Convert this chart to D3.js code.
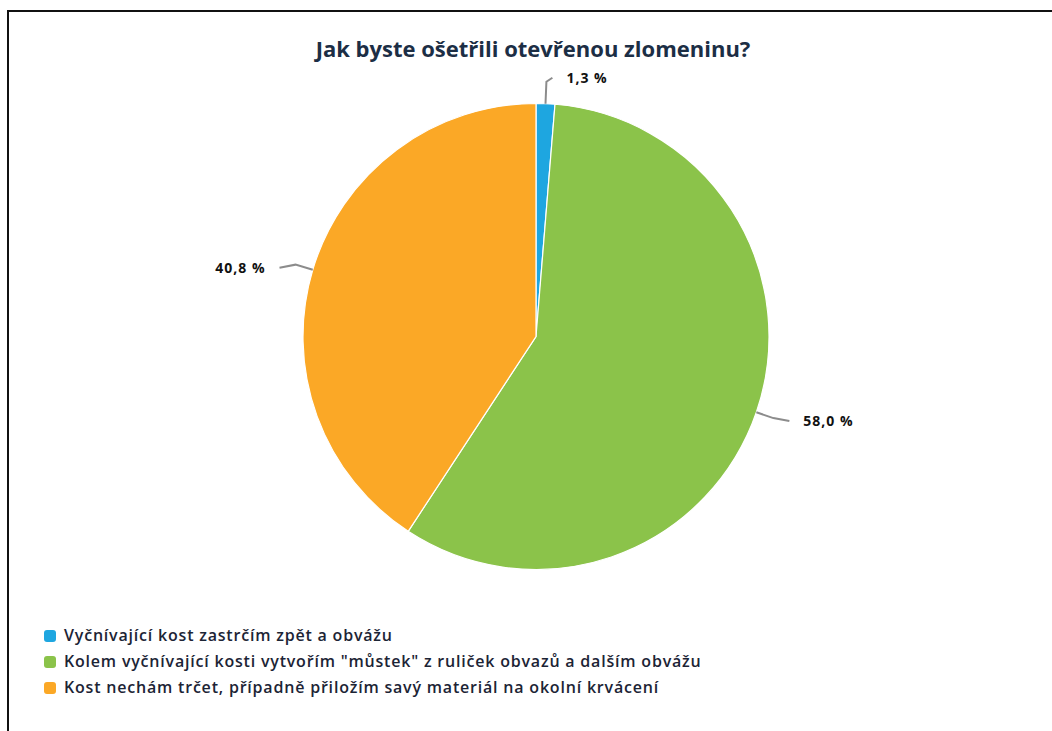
<!DOCTYPE html>
<html>
<head>
<meta charset="utf-8">
<script src="https://cdn.jsdelivr.net/npm/d3@7"></script>
<style>
  html, body { margin: 0; padding: 0; background: #fff; }
  svg { display: block; }
</style>
</head>
<body>
<svg id="chart" width="1052" height="731"></svg>
<script>
// Survey answers and their shares (percent)
const categories = [
  "Vyčnívající kost zastrčím zpět a obvážu",
  "Kolem vyčnívající kosti vytvořím \"můstek\" z ruliček obvazů a dalším obvážu",
  "Kost nechám trčet, případně přiložím savý materiál na okolní krvácení"
];
const values = [1.3, 58.0, 40.8];
const valueLabels = ["1,3 %", "58,0 %", "40,8 %"];
const colors = ["#1ea6e0", "#8bc34a", "#fba826"];
const title = "Jak byste ošetřili otevřenou zlomeninu?";

const svg = d3.select("#chart");
const W = 1052, H = 731;

// outer frame
svg.append("rect")
  .attr("x", 8).attr("y", 11)
  .attr("width", W + 20).attr("height", H + 20)
  .attr("fill", "#fff")
  .attr("stroke", "#111").attr("stroke-width", 2);

svg.append("text")
  .attr("x", 533).attr("y", 57)
  .attr("text-anchor", "middle")
  .attr("font-family", "Open Sans, sans-serif")
  .attr("font-weight", "bold")
  .attr("font-size", 22)
  .attr("fill", "#1c2e45")
  .text(title);

const cx = 536, cy = 336.5, R = 233;
const data = categories.map((c, i) => ({ name: c, value: values[i], label: valueLabels[i], color: colors[i] }));

const pie = d3.pie().sort(null).value(d => d.value);
const arcs = pie(data);
const arc = d3.arc().innerRadius(0).outerRadius(R);

const g = svg.append("g").attr("transform", `translate(${cx},${cy})`);

g.selectAll("path.slice")
  .data(arcs)
  .join("path")
  .attr("class", "slice")
  .attr("d", arc)
  .attr("fill", d => d.data.color)
  .attr("stroke", "#fff")
  .attr("stroke-width", 1.2);

// leader lines and value labels
const pt = (a, r) => [r * Math.sin(a), -r * Math.cos(a)];
arcs.forEach(d => {
  const mid = (d.startAngle + d.endAngle) / 2;
  const nearTop = Math.abs(Math.sin(mid)) < 0.2;
  const p0 = pt(mid, R);
  const p1 = pt(mid, R + (nearTop ? 22 : 18));
  const right = Math.sin(mid) >= 0;
  const p2 = [p1[0] + (right ? 1 : -1) * (nearTop ? 6 : 16), p1[1] + (nearTop ? -4 : 3)];
  g.append("path")
    .attr("d", d3.line()([p0, p1, p2]))
    .attr("fill", "none")
    .attr("stroke", "#8c8c8c")
    .attr("stroke-width", 2);
  g.append("text")
    .attr("x", p2[0] + (right ? 14 : -14))
    .attr("y", p2[1] + 5)
    .attr("text-anchor", right ? "start" : "end")
    .attr("font-family", "Open Sans, sans-serif")
    .attr("font-weight", "bold")
    .attr("font-size", 14)
    .attr("letter-spacing", 1)
    .attr("fill", "#111")
    .text(d.data.label);
});

// legend
const legend = svg.append("g").attr("transform", "translate(44,636)");
const rows = legend.selectAll("g")
  .data(data)
  .join("g")
  .attr("transform", (d, i) => `translate(0,${i * 26})`);
rows.append("rect")
  .attr("x", 0).attr("y", -6)
  .attr("width", 12).attr("height", 12)
  .attr("rx", 3)
  .attr("fill", d => d.color);
rows.append("text")
  .attr("x", 20).attr("y", 5)
  .attr("font-family", "Open Sans, sans-serif")
  .attr("font-weight", 600)
  .attr("font-size", 16)
  .attr("letter-spacing", 0.8)
  .attr("fill", "#1c2435")
  .text(d => d.name);
</script>
</body>
</html>
